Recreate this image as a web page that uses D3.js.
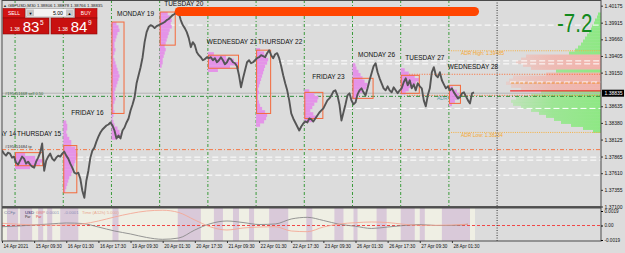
<!DOCTYPE html>
<html><head><meta charset="utf-8">
<script src="https://cdn.jsdelivr.net/npm/d3@7/dist/d3.min.js"></script>
<style>
body{margin:0;background:#dcdcdc;overflow:hidden}
svg{display:block;font-family:"Liberation Sans",Arial,sans-serif}
</style></head><body>
<svg id="c" width="625" height="253"></svg>
<script>
// ---------------- DATA ----------------
const symbolTitle = "GBPUSD,M30  1.38806 1.38878 1.38766 1.38835";
const bidPrice = 1.38835, askPrice = 1.38849;
const lotSize = "5.00";
// hourly closes (every 2 M30 bars) starting 14 Apr 17:30
const hourlyClose = [
1.37956,1.37910,1.37879,1.37925,1.37910,1.37848,1.37864,1.37771,1.37741,1.37802,
1.37864,1.37833,1.37756,1.37787,1.37741,1.37710,1.37695,1.37787,1.37848,1.37925,
1.38064,1.37648,1.37802,1.37864,1.37910,1.37833,1.37802,1.37848,1.37879,1.37864,
1.37910,1.37941,1.37879,1.37833,1.37756,1.37695,1.37618,1.37602,1.37618,1.37525,
1.37341,1.37233,1.37495,1.37648,1.37848,1.37956,1.38002,1.38094,1.38171,1.38233,
1.38279,1.38310,1.38340,1.38356,1.38387,1.38340,1.38264,1.38141,1.38187,1.38141,
1.38264,1.38310,1.38387,1.38448,1.38571,1.38663,1.38771,1.38986,1.39109,1.39233,
1.39386,1.39617,1.39771,1.39848,1.39878,1.39863,1.39832,1.39863,1.39878,1.39894,
1.39909,1.39925,1.39955,1.39971,1.40002,1.40032,1.40048,1.40094,1.40063,1.39955,
1.39878,1.39832,1.39771,1.39679,1.39540,1.39617,1.39571,1.39463,1.39417,1.39386,
1.39340,1.39356,1.39386,1.39371,1.39386,1.39340,1.39371,1.39309,1.39340,1.39386,
1.39340,1.39279,1.39309,1.39371,1.39356,1.39309,1.39294,1.39248,1.39109,1.38925,
1.39063,1.39186,1.39309,1.39340,1.39294,1.39309,1.39340,1.39371,1.39386,1.39417,
1.39402,1.39386,1.39448,1.39494,1.39417,1.39371,1.39432,1.39448,1.39371,1.39248,
1.39109,1.38986,1.38879,1.38725,1.38525,1.38448,1.38387,1.38325,1.38264,1.38325,
1.38371,1.38402,1.38387,1.38448,1.38433,1.38402,1.38448,1.38494,1.38540,1.38571,
1.38602,1.38663,1.38725,1.38756,1.38802,1.38863,1.38879,1.38802,1.38663,1.38417,
1.38540,1.38663,1.38802,1.38833,1.38725,1.38663,1.38694,1.38817,1.38879,1.38910,
1.38848,1.38802,1.38910,1.39033,1.39140,1.39248,1.39294,1.39156,1.39063,1.38986,
1.38910,1.38879,1.38940,1.38879,1.38848,1.38925,1.38879,1.38833,1.38879,1.38910,
1.39002,1.39063,1.38956,1.39033,1.38910,1.38971,1.38879,1.38986,1.38940,1.38910,
1.38725,1.38633,1.38802,1.38910,1.39156,1.39233,1.39109,1.39079,1.39156,1.39033,
1.38971,1.38910,1.38940,1.38879,1.38910,1.38848,1.38802,1.38756,1.38771,1.38833,
1.38848,1.38787,1.38725,1.38679,1.38833,1.38848
];
const priceTicks = [1.40175,1.39915,1.39660,1.39405,1.39150,1.38895,1.38635,1.38380,1.38125,1.37865,1.37610,1.37355,1.37100];
const dateLabels = ["14 Apr 2021","15 Apr 09:30","16 Apr 01:30","16 Apr 17:30","19 Apr 09:30","20 Apr 01:30","20 Apr 17:30","21 Apr 09:30","22 Apr 01:30","22 Apr 17:30","23 Apr 09:30","26 Apr 01:30","26 Apr 17:30","27 Apr 09:30","28 Apr 01:30"];
const dayNames = ["WEDNESDAY 14","THURSDAY 15","FRIDAY 16","MONDAY 19","TUESDAY 20","WEDNESDAY 21","THURSDAY 22","FRIDAY 23","MONDAY 26","TUESDAY 27","WEDNESDAY 28"];
const dayLabelPrice = [1.38217,1.38217,1.38540,1.40048,1.40212,1.39622,1.39622,1.39094,1.39432,1.39382,1.39237];
// daily volume profiles (top price, volumes top->bottom, step 0.0005)
const profileTop = [1.37925,1.38417,1.39925,1.40078,1.39463,1.39525,1.38894,1.39294,1.39217,1.38940];
const profileVol = [
 [10,20,27,25,15],
 [3,4,4,3,4,6,8,8,12,13,14,13,12,11,10,9,8,6,5,4,3,2],
 [5,7,8,6,5,4,3,3,4,3,2,3,4,5,6,7,8,7,6,5,4,3,3,4,3,2,2,3,2,1,2,3,6,8,9,5],
 [8,10,12,11,12,10,9,8,7,6,5,6,5,4,3,3,2],
 [6,18,26,30,22,10],
 [4,8,10,12,11,9,8,7,6,5,4,3,2,3,2,2,3,4,6,9,11,10,8,4],
 [5,10,14,13,10,8,6,9,12,8],
 [3,4,6,8,10,12,15,14,10,7,4],
 [4,8,14,18,15,12,8,5],
 [4,8,10,9,6,3]
];
const vaHigh = [1.37925,1.38033,1.39925,1.40078,1.39417,1.39494,1.38848,1.39063,1.39109,1.38956];
const vaLow  = [1.37725,1.37310,1.38525,1.39571,1.39217,1.38525,1.38448,1.38756,1.38833,1.38679];
const vaWidth = [27,13,12,15,30,14,18,20,18,11];
// right-side session profile (top 1.40048, step 0.00046)
const rightVol  = [3,4,6,7,9,10,12,14,16,18,20,23,26,32,75,80,85,78,70,45,55,88,92,95,90,80,60,70,85,90,88,80,70,62,55,47,40,30,18,8];
const rightSide = ["g","g","g","g","g","g","g","g","g","g","g","g","g","g","p","p","p","p","p","g","p","p","p","p","p","p","g","g","g","g","g","g","g","g","g","g","g","g","g","g"];
// levels
const whiteLevels = [[1.39878,158],[1.39330,275],[1.39284,275],[1.39006,506],[1.38602,343],[1.37856,66],[1.37810,66],[1.37580,78]];
const adrHigh = 1.39485, adrLow = 1.38234;
const sellOpen = 1.38787, tpLevel = 1.37971;
const orangeDotted = [[1.39125,403],[1.38802,403]];
const orangeDotted2 = [[1.39006,507]];
const pocLevel = 1.38870;
const deltaValue = "-7.2";
// CCFp indicator (every 16 bars)
const ccfUSD = [-0.00016,-0.00007,0.00007,0.0002,0.00033,0.00026,-0.0002,-0.00072,-0.00111,-0.00157,-0.00181,-0.00164,-0.00059,0.00026,0.00059,0.00039,0.00013,0.0002,0.00085,0.00107,0.00066,0.00016,-0.0001,-0.00039,-0.0002,0,0.00013,0,0,0.00017];
const ccfGBP = [0.00029,0.00017,0.00007,0.00004,0.00007,0.0002,0.00059,0.00111,0.00157,0.0019,0.002,0.0017,0.00072,-0.0002,-0.00059,-0.00033,-0.0002,-0.00016,-0.00072,-0.00081,-0.0002,0.0002,0.00037,0.00046,0.00039,0.00016,0.00003,0.00003,0.00007,0.00017];
const ccfBands = [[5,16],[18,30],[36,41],[45,50],[58,76],[110,116],[175,198],[211,220],[230,236],[246,251],[266,285],[303,309],[331,340],[350,354],[373,383],[397,411],[416,421],[438,466]];
const ccfTicks = [0.0019,0,-0.0019], ccfTickLabels = ["0.0019","0.00","-0.0019"];

// ---------------- SCALES ----------------
const svg = d3.select("#c");
const L=2, R=601, MB=207, IT=208, IB=241;
const x = d3.scaleLinear().domain([0,445]).range([2,448.9]);
const y = d3.scaleLinear().domain([1.37100,1.40175]).range([206.5,5.7]);
const yi = d3.scaleLinear().domain([-0.0019,0.0019]).range([240,211]);
const dayStart = d => 13 + 48*d;
const lastBar = 2*(hourlyClose.length-1);

const defs = svg.append("defs");
defs.append("clipPath").attr("id","mainClip").append("rect").attr("x",L).attr("y",0).attr("width",R-L).attr("height",MB);
defs.append("clipPath").attr("id","indClip").append("rect").attr("x",L).attr("y",IT).attr("width",R-L).attr("height",IB-IT);
function grad(id,c1,c2){
  const g = defs.append("linearGradient").attr("id",id).attr("gradientUnits","userSpaceOnUse")
    .attr("x1",480).attr("x2",R).attr("y1",0).attr("y2",0);
  g.append("stop").attr("offset","0%").attr("stop-color",c1).attr("stop-opacity",0.25);
  g.append("stop").attr("offset","60%").attr("stop-color",c2).attr("stop-opacity",0.8);
  g.append("stop").attr("offset","100%").attr("stop-color",c2).attr("stop-opacity",1);
}
grad("gGreen","#b4eaa8","#8ee884");
grad("gPink","#f2c6bc","#f2b2aa");

svg.append("rect").attr("width",625).attr("height",253).attr("fill","#dcdcdc");

// ---------------- INDICATOR PANEL ----------------
const ind = svg.append("g").attr("clip-path","url(#indClip)");
ind.append("rect").attr("x",L).attr("y",IT).attr("width",x(lastBar+1)-L).attr("height",IB-IT).attr("fill","#efefe4");
ind.selectAll(".band").data(ccfBands).join("rect")
  .attr("x",d=>x(d[0])).attr("width",d=>x(d[1])-x(d[0])).attr("y",IT).attr("height",IB-IT).attr("fill","#d9c9d9");
ind.append("line").attr("x1",L).attr("x2",R).attr("y1",yi(0)).attr("y2",yi(0)).attr("stroke","#f04848").attr("stroke-dasharray","3,2");
const il = d3.line().x((d,i)=>x(Math.min(i*16,lastBar))).y(d=>yi(d)).curve(d3.curveMonotoneX);
ind.append("path").datum(ccfUSD).attr("d",il).attr("fill","none").attr("stroke","#8a8a8a").attr("stroke-width",0.9);
ind.append("path").datum(ccfGBP).attr("d",il).attr("fill","none").attr("stroke","#f4a896").attr("stroke-width",0.9);
const it = svg.append("g").attr("font-size",4.3);
it.append("text").attr("x",4).attr("y",214).attr("fill","#6a7a9a").text("CCFp");
it.append("text").attr("x",25).attr("y",214).attr("fill","#2a2a6a").text("USD");
it.append("text").attr("x",36).attr("y",214).attr("fill","#e08080").text("GBP");
it.append("text").attr("x",25).attr("y",218).attr("fill","#2a2a2a").attr("font-size",3.5).text("Par");
it.append("text").attr("x",36).attr("y",218).attr("fill","#e04040").attr("font-size",3.5).text("Par");
it.append("text").attr("x",46).attr("y",214).attr("fill","#9090b8").text("0.0001");
it.append("text").attr("x",64).attr("y",214).attr("fill","#9090b8").text("-0.0001");
it.append("text").attr("x",82).attr("y",214).attr("fill","#e8a890").text("Time (A12h) 5.000)");

// ---------------- MAIN PLOT ----------------
const main = svg.append("g").attr("clip-path","url(#mainClip)");
// right session profile
const rstep = 0.00046;
const rv = d3.scaleLinear().domain([0,100]).range([0,100]);
main.selectAll(".rp").data(rightVol).join("rect")
  .attr("x",d=>R-rv(d)).attr("width",d=>rv(d))
  .attr("y",(d,i)=>y(1.40048 - i*rstep + rstep/2)).attr("height",(d,i)=>y(1.40048-i*rstep-rstep/2)-y(1.40048-i*rstep+rstep/2)+0.3)
  .attr("fill",(d,i)=>rightSide[i]==="p"?"url(#gPink)":"url(#gGreen)");
// white dashed levels
main.selectAll(".wl").data(whiteLevels).join("line")
  .attr("x1",d=>x(d[1])).attr("x2",R).attr("y1",d=>y(d[0])).attr("y2",d=>y(d[0]))
  .attr("stroke","#ffffff").attr("stroke-width",1).attr("stroke-dasharray","6,3");
// bid line
main.append("line").attr("x1",L).attr("x2",R).attr("y1",y(bidPrice)).attr("y2",y(bidPrice)).attr("stroke","#b4b4b4");
// poc red
main.append("line").attr("x1",x(506)).attr("x2",R).attr("y1",y(pocLevel)).attr("y2",y(pocLevel)).attr("stroke","#f03030").attr("stroke-width",1.2);
// orange dotted
main.selectAll(".od").data(orangeDotted).join("line")
  .attr("x1",d=>x(d[1])).attr("x2",R).attr("y1",d=>y(d[0])).attr("y2",d=>y(d[0]))
  .attr("stroke","#ff6a30").attr("stroke-dasharray","1,1.5");
main.selectAll(".od2").data(orangeDotted2).join("line")
  .attr("x1",d=>x(d[1])).attr("x2",R).attr("y1",d=>y(d[0])+1).attr("y2",d=>y(d[0])+1)
  .attr("stroke","#f09030").attr("stroke-dasharray","3,1.5");
// ADR
[[adrHigh,"ADR High: "],[adrLow,"ADR Low: "]].forEach(([p,t])=>{
  main.append("line").attr("x1",x(dayStart(9))).attr("x2",R).attr("y1",y(p)).attr("y2",y(p))
    .attr("stroke","#f5b040").attr("stroke-dasharray","1,1.2").attr("stroke-width",1);
  main.append("text").attr("x",x(dayStart(9))+12).attr("y",y(p)+4.5).attr("font-size",5).attr("fill","#f5a830").text(t+p.toFixed(5));
});
main.append("text").attr("x",437).attr("y",y(1.38787)+4).attr("font-size",5).attr("fill","#5a9ea8").text("ADR 50%");
// order lines
main.append("line").attr("x1",L).attr("x2",R).attr("y1",y(sellOpen)).attr("y2",y(sellOpen))
  .attr("stroke","#2e8e3a").attr("stroke-dasharray","4,2,1,2");
main.append("line").attr("x1",L).attr("x2",R).attr("y1",y(tpLevel)).attr("y2",y(tpLevel))
  .attr("stroke","#f57a48").attr("stroke-dasharray","4,2,1,2");
main.append("text").attr("x",5).attr("y",y(sellOpen)-1.2).attr("font-size",4).attr("fill","#2a5a2a").text("#195451668 sell 0.50");
main.append("text").attr("x",5).attr("y",y(tpLevel)-1.2).attr("font-size",4).attr("fill","#333").text("#195451684 tp");
// day separators
main.selectAll(".sep").data(d3.range(10)).join("line")
  .attr("x1",d=>x(dayStart(d))).attr("x2",d=>x(dayStart(d))).attr("y1",0).attr("y2",MB)
  .attr("stroke","#3a9a3a").attr("stroke-dasharray","3,2,1,2");
// violet profiles
const pstep = 0.0005;
profileVol.forEach((vols,d)=>{
  const s = dayStart(d);
  main.append("g").selectAll("rect").data(vols).join("rect")
    .attr("x",x(s)).attr("width",v=>x(s+v)-x(s))
    .attr("y",(v,i)=>y(profileTop[d]-i*pstep))
    .attr("height",(v,i)=>y(profileTop[d]-(i+1)*pstep)-y(profileTop[d]-i*pstep)+0.2)
    .attr("fill","#e493e8");
  main.append("rect").attr("x",x(s)+0.5).attr("y",y(vaHigh[d])).attr("width",x(s+vaWidth[d])-x(s))
    .attr("height",y(vaLow[d])-y(vaHigh[d])).attr("fill","none").attr("stroke","#f4693a").attr("stroke-width",1);
});
// price line
const line = d3.line().x((d,i)=>x(2*i)).y(d=>y(d));
main.append("path").datum(hourlyClose).attr("d",line).attr("fill","none").attr("stroke","#555").attr("stroke-width",1.9).attr("stroke-linejoin","round");
// day labels
main.selectAll(".dl").data(dayNames).join("text")
  .attr("x",(d,i)=>x(dayStart(i-1)+24)).attr("y",(d,i)=>y(dayLabelPrice[i])+2.3)
  .attr("text-anchor","middle").attr("font-size",6.5).attr("fill","#111").text(d=>d);
// black dotted vertical (also in indicator)
svg.append("line").attr("x1",x(493)).attr("x2",x(493)).attr("y1",0).attr("y2",IB).attr("stroke","#333").attr("stroke-dasharray","1,1.5");
// top red bar
main.append("rect").attr("x",x(172)).attr("y",7).attr("width",x(475)-x(172)).attr("height",9).attr("rx",4.5).attr("fill","#ff4500");
// delta value
main.append("text").attr("transform","translate(557,32) scale(0.82,1)").attr("font-size",25).attr("fill","#138a1e").text(deltaValue);

// trading panel
const tp = svg.append("g");
tp.append("text").attr("x",3).attr("y",6.5).attr("font-size",4).attr("fill","#333").text("▲");
tp.append("text").attr("x",8).attr("y",6.5).attr("font-size",4.3).attr("fill","#222").text(symbolTitle);
tp.append("rect").attr("x",3).attr("y",8.5).attr("width",22).attr("height",9.5).attr("fill","#d21414").attr("stroke","#9a0a0a").attr("stroke-width",0.6);
tp.append("text").attr("x",14).attr("y",15).attr("text-anchor","middle").attr("font-size",5).attr("fill","#fff").text("SELL");
tp.append("rect").attr("x",75).attr("y",8.5).attr("width",22).attr("height",9.5).attr("fill","#d21414").attr("stroke","#9a0a0a").attr("stroke-width",0.6);
tp.append("text").attr("x",86).attr("y",15).attr("text-anchor","middle").attr("font-size",5).attr("fill","#fff").text("BUY");
tp.append("rect").attr("x",26).attr("y",8.5).attr("width",48).attr("height",8.5).attr("fill","#f4f4f4").attr("stroke","#888").attr("stroke-width",0.5);
tp.append("rect").attr("x",27).attr("y",9.5).attr("width",7).attr("height",6.5).attr("fill","#c8c8c8");
tp.append("rect").attr("x",66).attr("y",9.5).attr("width",7).attr("height",6.5).attr("fill","#c8c8c8");
tp.append("text").attr("x",30.5).attr("y",14.6).attr("text-anchor","middle").attr("font-size",4).attr("fill","#000").text("▼");
tp.append("text").attr("x",69.5).attr("y",14.6).attr("text-anchor","middle").attr("font-size",4).attr("fill","#000").text("▲");
tp.append("text").attr("x",63).attr("y",15).attr("text-anchor","end").attr("font-size",5.2).attr("fill","#000").text(lotSize);
[[3,bidPrice],[51,askPrice]].forEach(([bx,p])=>{
  const s = p.toFixed(5);
  tp.append("rect").attr("x",bx).attr("y",18).attr("width",46).attr("height",16).attr("fill","#c81010").attr("stroke","#8a0808").attr("stroke-width",0.6);
  tp.append("text").attr("x",bx+7).attr("y",31).attr("font-size",5).attr("fill","#fff").text(s.slice(0,4));
  tp.append("text").attr("x",bx+28).attr("y",32).attr("text-anchor","middle").attr("font-size",15).attr("fill","#fff").text(s.slice(4,6));
  tp.append("text").attr("x",bx+37).attr("y",25).attr("font-size",6.5).attr("fill","#fff").text(s.slice(6));
});

// ---------------- FRAMES & AXES ----------------
svg.append("rect").attr("x",L).attr("y",0.5).attr("width",R-L).attr("height",MB-0.5).attr("fill","none").attr("stroke","#4a4a4a").attr("stroke-width",1);
svg.append("line").attr("x1",L).attr("x2",R).attr("y1",MB).attr("y2",MB).attr("stroke","#555").attr("stroke-width",2);
svg.append("rect").attr("x",L).attr("y",IT).attr("width",R-L).attr("height",IB-IT).attr("fill","none").attr("stroke","#4a4a4a").attr("stroke-width",1);

// price axis; the tick hidden under the current-price label is not drawn
const shownTicks = priceTicks.filter(t=>Math.abs(y(t)-y(bidPrice))>5);
const ya = svg.append("g").attr("transform",`translate(${R},0)`)
  .call(d3.axisRight(y).tickValues(shownTicks).tickSize(2).tickFormat(d=>d.toFixed(5)));
ya.select(".domain").remove();
ya.selectAll("text").attr("font-size",5).attr("fill","#111").attr("x",3.5);
ya.selectAll("line").attr("stroke","#333");
// current price label
svg.append("rect").attr("x",R+1).attr("y",y(bidPrice)-3.5).attr("width",22).attr("height",7).attr("fill","#000");
svg.append("text").attr("x",R+3.5).attr("y",y(bidPrice)+1.8).attr("font-size",5).attr("fill","#fff").text(bidPrice.toFixed(5));

const yia = svg.append("g").attr("transform",`translate(${R},0)`)
  .call(d3.axisRight(yi).tickValues(ccfTicks).tickSize(2).tickFormat((d,i)=>ccfTickLabels[i]));
yia.select(".domain").remove();
yia.selectAll("text").attr("font-size",4.6).attr("fill","#111").attr("x",3.5);

const xa = svg.append("g").attr("transform",`translate(0,${IB})`)
  .call(d3.axisBottom(x).tickValues(dateLabels.map((d,i)=>i*32)).tickSize(2).tickFormat((d,i)=>dateLabels[i]));
xa.select(".domain").remove();
xa.selectAll("text").attr("font-size",4.6).attr("fill","#111").attr("text-anchor","start").attr("dx",1).attr("y",4);
xa.selectAll("line").attr("stroke","#333");
</script>
</body></html>
